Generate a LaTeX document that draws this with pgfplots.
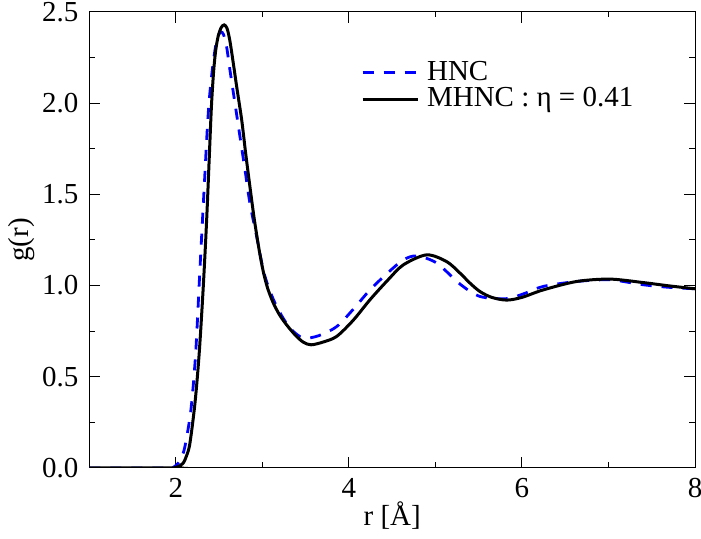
\documentclass[border=0pt]{standalone}
\usepackage{pgfplots}
\pgfplotsset{compat=1.18}
\usepackage{fontspec}
\setmainfont{Liberation Serif}
\begin{document}
\fontsize{14.5}{17}\selectfont
\begin{tikzpicture}
\begin{axis}[
  scale only axis,
  width=303pt, height=228.25pt,
  xmin=1, xmax=8, ymin=0, ymax=2.5,
  xtick={2,4,6,8},
  minor xtick={1,3,5,7},
  ytick={0,0.5,1,1.5,2,2.5},
  minor ytick={0.25,0.75,1.25,1.75,2.25},
  tick align=inside,
  major tick length=5.5pt,
  minor tick length=2.8pt,
  every tick/.style={black, line width=0.5pt},
  axis line style={line width=0.5pt},
  yticklabel style={/pgf/number format/fixed,/pgf/number format/fixed zerofill,/pgf/number format/precision=1, xshift=-0.5pt},
  /pgf/number format/assume math mode=true,
  ticklabel style={font=\fontsize{14.5}{17}\selectfont},
  label style={font=\fontsize{14.5}{17}\selectfont},
  xlabel={r [Å]},
  ylabel={g(r)},
  xlabel style={yshift=8pt},
  ylabel style={yshift=-6pt},
  legend style={draw=none, fill=none, at={(0.448,0.893)}, anchor=north west, inner sep=0pt, row sep=1.5pt,
    font=\fontsize{14.5}{17}\selectfont, nodes={inner xsep=4pt, inner ysep=0pt}},
  legend cell align=left,
  legend image code/.code={\draw[#1] (0pt,0pt) -- (27.5pt,0pt);},
]
\addplot[blue, line width=1.4pt, dash pattern=on 5.5pt off 5pt, smooth] coordinates {
(1,0) (1.92,0) (1.969,0.003) (2.027,0.027) (2.065,0.06) (2.104,0.118) (2.173,0.319) (2.228,0.630)
(2.277,1.086) (2.327,1.542) (2.366,1.890) (2.395,2.07) (2.43,2.22) (2.46,2.315) (2.49,2.37) (2.52,2.39)
(2.55,2.375) (2.585,2.31) (2.624,2.181) (2.682,1.999) (2.740,1.816) (2.798,1.634) (2.855,1.451)
(2.933,1.268) (3.009,1.086) (3.07,0.99) (3.145,0.904) (3.24,0.82) (3.338,0.757) (3.472,0.712)
(3.65,0.725) (3.858,0.775) (4.05,0.87) (4.243,0.976)
(4.45,1.07) (4.628,1.140) (4.783,1.162) (5.014,1.123) (5.283,1.008) (5.514,0.940) (5.823,0.928)
(6.05,0.96) (6.246,0.995) (6.632,1.022) (7.017,1.031) (7.402,1.004) (7.7,0.99) (8.0,0.982)
};
\addlegendentry{HNC}
\addplot[black, line width=1.5pt, smooth] coordinates {
(1,0) (1.95,0) (1.988,0.002) (2.03,0.008) (2.084,0.027) (2.125,0.07) (2.162,0.137) (2.22,0.356)
(2.269,0.630) (2.316,0.995) (2.355,1.360) (2.385,1.70) (2.41,1.98) (2.435,2.17) (2.46,2.29)
(2.49,2.37) (2.525,2.415) (2.558,2.428) (2.59,2.41) (2.62,2.35) (2.65,2.26) (2.702,2.090)
(2.760,1.907) (2.806,1.724) (2.855,1.542) (2.905,1.365) (2.96,1.20) (3.01,1.075) (3.06,0.985)
(3.12,0.91) (3.19,0.845) (3.27,0.79) (3.376,0.73) (3.47,0.69) (3.561,0.675)
(3.70,0.69) (3.858,0.721) (4.05,0.81) (4.243,0.922) (4.45,1.03) (4.628,1.113) (4.898,1.168)
(5.129,1.131) (5.283,1.068) (5.399,1.013) (5.514,0.967) (5.65,0.935) (5.823,0.920) (6.0,0.935)
(6.246,0.976) (6.632,1.022) (7.017,1.035) (7.402,1.016) (7.7,0.998) (8.0,0.982)
};
\addlegendentry{MHNC : η = 0.41}
\end{axis}
\pgfresetboundingbox
\path ([xshift=-44.75pt,yshift=-35.35pt]current axis.south west) rectangle ([xshift=3pt,yshift=5.9pt]current axis.north east);
\end{tikzpicture}
\end{document}
